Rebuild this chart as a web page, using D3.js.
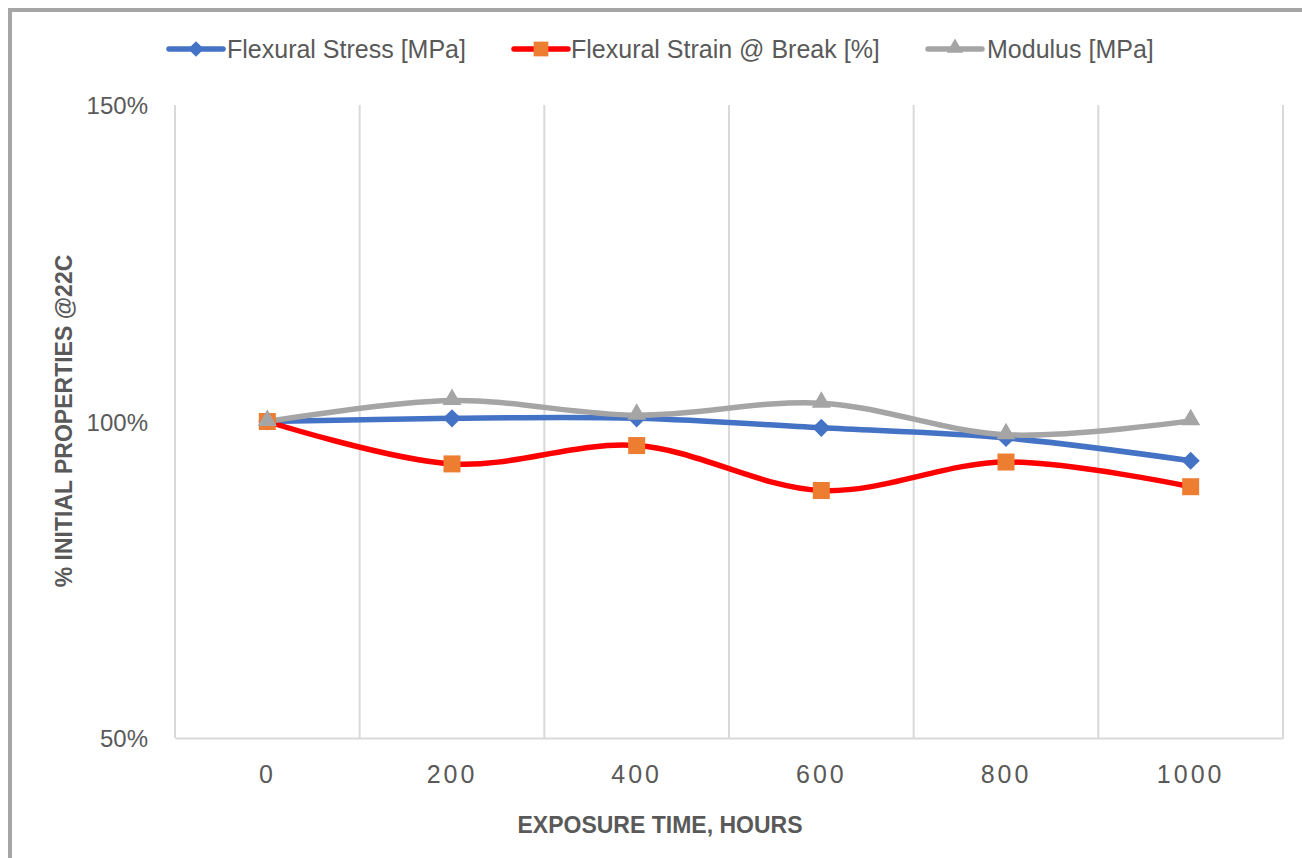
<!DOCTYPE html>
<html><head><meta charset="utf-8">
<script src="https://cdn.jsdelivr.net/npm/d3@7"></script>
<style>
html,body{margin:0;padding:0;background:#fff;}
svg{display:block;font-family:"Liberation Sans",Arial,sans-serif;}
</style></head>
<body><svg id="c" width="1302" height="858"></svg>
<script>
const categories = ["0","200","400","600","800","1000"];
const flexuralStress = [1.000, 1.005, 1.005, 0.990, 0.974, 0.938];
const flexuralStrain = [1.000, 0.933, 0.962, 0.891, 0.936, 0.897];
const modulus = [1.000, 1.033, 1.010, 1.029, 0.979, 1.001];
const yTicks = [0.5, 1.0, 1.5];
const seriesNames = ["Flexural Stress [MPa]", "Flexural Strain @ Break [%]", "Modulus [MPa]"];

(function(){
const svg = d3.select("#c");
const W = 1302, H = 858;
const pLeft = 175, pRight = 1283, pTop = 105, pBottom = 738;

// frame
svg.append("rect").attr("x",0).attr("y",0).attr("width",W).attr("height",H).attr("fill","#fff");
svg.append("line").attr("x1",10).attr("x2",10).attr("y1",8).attr("y2",H).attr("stroke","#a6a6a6").attr("stroke-width",4);
svg.append("line").attr("x1",8).attr("x2",W).attr("y1",10).attr("y2",10).attr("stroke","#a6a6a6").attr("stroke-width",4);

const x = d3.scaleBand().domain(categories).range([pLeft,pRight]).padding(0);
const y = d3.scaleLinear().domain([0.5,1.5]).range([pBottom,pTop]);
const cx = c => x(c) + x.bandwidth()/2;

// vertical gridlines at band edges
const edges = categories.map(c => x(c)).concat([x(categories[categories.length-1]) + x.bandwidth()]);
svg.append("g").selectAll("line").data(edges).join("line")
  .attr("x1",d=>d).attr("x2",d=>d).attr("y1",pTop).attr("y2",pBottom)
  .attr("stroke","#d9d9d9").attr("stroke-width",2);

// x axis
const xAxis = svg.append("g").attr("transform",`translate(0,${pBottom})`)
  .call(d3.axisBottom(x).tickSize(0).tickPadding(0));
xAxis.select(".domain").attr("stroke","#d9d9d9").attr("stroke-width",2);
xAxis.selectAll("text").attr("y",45).attr("dy",0).attr("fill","#595959")
  .style("font-size","25px").style("letter-spacing","3px")
  .style("font-family","'Liberation Sans',Arial,sans-serif");

// y axis
const yAxis = svg.append("g").attr("transform",`translate(${pLeft},0)`)
  .call(d3.axisLeft(y).tickValues(yTicks).tickSize(0).tickPadding(27).tickFormat(d3.format(".0%")));
yAxis.select(".domain").remove();
yAxis.selectAll("text").attr("fill","#595959").style("font-size","24px")
  .style("font-family","'Liberation Sans',Arial,sans-serif").attr("dy","0.36em");

// axis titles
svg.append("text").attr("x",660).attr("y",833).attr("text-anchor","middle")
  .attr("fill","#595959").style("font-size","23px").style("font-weight","bold")
  .text("EXPOSURE TIME, HOURS");
svg.append("text").attr("transform","translate(72,421) rotate(-90)").attr("text-anchor","middle")
  .attr("fill","#595959").style("font-size","23px").style("font-weight","bold")
  .text("% INITIAL PROPERTIES @22C");

const series = [
  {name: seriesNames[0], values: flexuralStress, line:"#4472C4", marker:"#4472C4", shape:"diamond"},
  {name: seriesNames[1], values: flexuralStrain, line:"#FF0000", marker:"#ED7D31", shape:"square"},
  {name: seriesNames[2], values: modulus, line:"#A5A5A5", marker:"#A5A5A5", shape:"triangle"}
];

const symbolFor = (s, k) => {
  k = k || 1;
  if (s === "diamond") return d3.symbol().type(d3.symbolDiamond2).size(210*k);
  if (s === "square") return d3.symbol().type(d3.symbolSquare).size(289*k);
  return d3.symbol().type(d3.symbolTriangle2).size(260*k);
};

const line = d3.line().x((d,i)=>cx(categories[i])).y(d=>y(d)).curve(d3.curveCatmullRom.alpha(0.5));

series.forEach(s => {
  svg.append("path").datum(s.values).attr("d",line).attr("fill","none")
    .attr("stroke",s.line).attr("stroke-width",5.5).attr("stroke-linecap","round").attr("stroke-linejoin","round");
});
series.forEach(s => {
  const sym = symbolFor(s.shape);
  svg.append("g").selectAll("path").data(s.values).join("path")
    .attr("d",sym)
    .attr("transform",(d,i)=>`translate(${cx(categories[i])},${y(d) + (s.shape==="triangle"?-1:0)})`)
    .attr("fill",s.marker);
});

// legend
const legendItems = [
  {lx:169, tx:227},
  {lx:514, tx:571},
  {lx:928, tx:987}
];
series.forEach((s,i) => {
  const g = svg.append("g");
  const L = legendItems[i];
  g.append("line").attr("x1",L.lx).attr("x2",L.lx+54).attr("y1",49).attr("y2",49)
    .attr("stroke",s.line).attr("stroke-width",5.5).attr("stroke-linecap","round");
  g.append("path").attr("d",symbolFor(s.shape, 0.75)).attr("fill",s.marker)
    .attr("transform",`translate(${L.lx+27},${49 + (s.shape==="triangle"?-1:0)})`);
  g.append("text").attr("x",L.tx).attr("y",58).attr("fill","#595959")
    .style("font-size","25px").text(s.name);
});
})();
</script></body></html>
